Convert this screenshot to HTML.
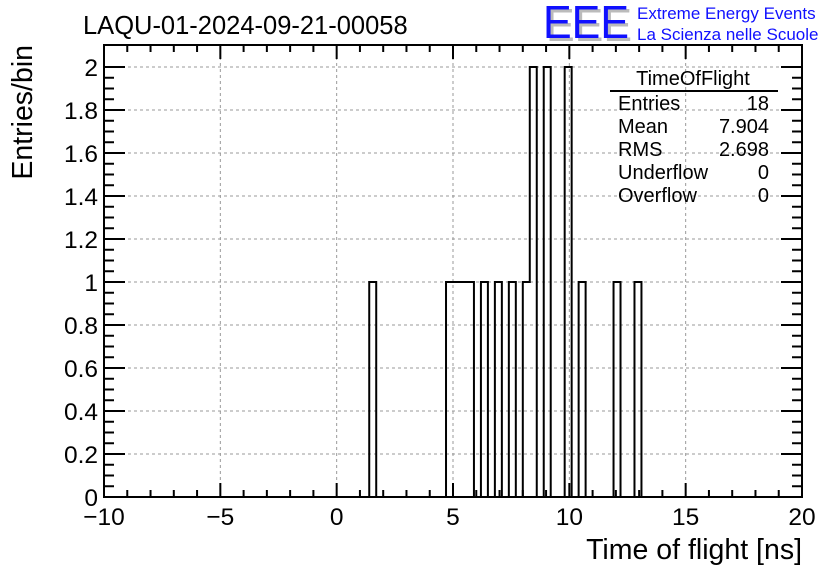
<!DOCTYPE html>
<html><head><meta charset="utf-8"><style>
body{margin:0;background:#fff}
svg{display:block;font-family:"Liberation Sans",sans-serif}
</style></head><body>
<svg id="c" width="836" height="572">
<rect width="836" height="572" fill="#fff"/>
<text x="83" y="34" font-size="25.5">LAQU-01-2024-09-21-00058</text>
<g>
<text x="546" y="41" font-size="46" fill="#bbb" textLength="86" lengthAdjust="spacingAndGlyphs">EEE</text>
<text x="543" y="38" font-size="46" fill="#1010ff" textLength="86" lengthAdjust="spacingAndGlyphs">EEE</text>
<text x="637" y="19" font-size="17" fill="#1010ff">Extreme Energy Events</text>
<text x="637" y="40" font-size="17" fill="#1010ff">La Scienza nelle Scuole</text>
</g>
<g id="grid"></g>
<g id="axes"></g>
<path id="hist" fill="none" stroke="#000" stroke-width="2"/>
<rect x="104" y="45" width="698" height="452" fill="none" stroke="#000" stroke-width="2"/>
<g font-size="20">
<text x="693" y="85" text-anchor="middle">TimeOfFlight</text>
<line x1="610" y1="91" x2="778" y2="91" stroke="#000" stroke-width="2"/>
<text x="618" y="110">Entries</text><text x="769" y="110" text-anchor="end">18</text>
<text x="618" y="133">Mean</text><text x="769" y="133" text-anchor="end">7.904</text>
<text x="618" y="156">RMS</text><text x="769" y="156" text-anchor="end">2.698</text>
<text x="618" y="179">Underflow</text><text x="769" y="179" text-anchor="end">0</text>
<text x="618" y="202">Overflow</text><text x="769" y="202" text-anchor="end">0</text>
</g>
<text x="802" y="559" font-size="28.5" text-anchor="end">Time of flight [ns]</text>
<text transform="translate(32,45) rotate(-90)" font-size="28.5" text-anchor="end">Entries/bin</text>
</svg>
<script>
const binLow = [1.4, 4.7, 5.0, 5.3, 5.6, 6.2, 6.8, 7.4, 8.0, 8.3, 8.9, 9.8, 10.4, 11.9, 12.8];
const binCounts = [1, 1, 1, 1, 1, 1, 1, 1, 1, 2, 2, 2, 1, 1, 1];
const binWidth = 0.3;
const xTicks = [-10, -5, 0, 5, 10, 15, 20];
const yTicks = [0, 0.2, 0.4, 0.6, 0.8, 1, 1.2, 1.4, 1.6, 1.8, 2];
const X0=104,X1=802,Y0=497,YT=45;
const xs=v=>X0+(v+10)/30*(X1-X0);
const ys=v=>Y0-v*215;
const NS="http://www.w3.org/2000/svg";
const grid=document.getElementById('grid'),axes=document.getElementById('axes');
function ln(p,x1,y1,x2,y2,st,w,d){const l=document.createElementNS(NS,'line');
l.setAttribute('x1',x1);l.setAttribute('y1',y1);l.setAttribute('x2',x2);l.setAttribute('y2',y2);
l.setAttribute('stroke',st);l.setAttribute('stroke-width',w);if(d)l.setAttribute('stroke-dasharray',d);p.appendChild(l);return l;}
function tx(x,y,s,a){const t=document.createElementNS(NS,'text');t.setAttribute('x',x);t.setAttribute('y',y);
t.setAttribute('font-size',24.5);t.setAttribute('text-anchor',a);t.textContent=s;axes.appendChild(t);return t;}
xTicks.forEach(v=>{const x=xs(v);
 if(v>-10&&v<20){const g=ln(grid,x,YT,x,Y0,'#999',1,'3,3');
 
 }
 ln(axes,x,Y0,x,Y0-14,'#000',2);ln(axes,x,YT,x,YT+14,'#000',2);
 const t=tx(x,525,String(v).replace('-','\u2212'),'middle');
 
 });
for(let v=-10;v<=20;v++){if(v%5){const x=xs(v);ln(axes,x,Y0,x,Y0-7,'#000',2);ln(axes,x,YT,x,YT+7,'#000',2);}}
yTicks.forEach(v=>{const y=ys(v);
 if(v>0){const g=ln(grid,X0,y,X1,y,'#999',1,'3,3');
 
 }
 ln(axes,X0,y,X0+21,y,'#000',2);ln(axes,X1,y,X1-21,y,'#000',2);
 const t=tx(98,y+9,String(v),'end');
 
 });
for(let i=0;i<40;i++){if(i%4){const y=ys(i*0.05);ln(axes,X0,y,X0+10,y,'#000',2);ln(axes,X1,y,X1-10,y,'#000',2);}}
const counts=new Array(100).fill(0);
binLow.forEach((b,i)=>{counts[Math.round((b+10)/binWidth)]+=binCounts[i];});
let d='M'+X0+','+Y0;
for(let k=0;k<100;k++){const xl=xs(-10+k*binWidth),xr=xs(-10+(k+1)*binWidth),y=ys(counts[k]);
 d+=' L'+xl+','+y+' L'+xr+','+y;}
d+=' L'+X1+','+Y0;
document.getElementById('hist').setAttribute('d',d);
</script>
</body></html>
